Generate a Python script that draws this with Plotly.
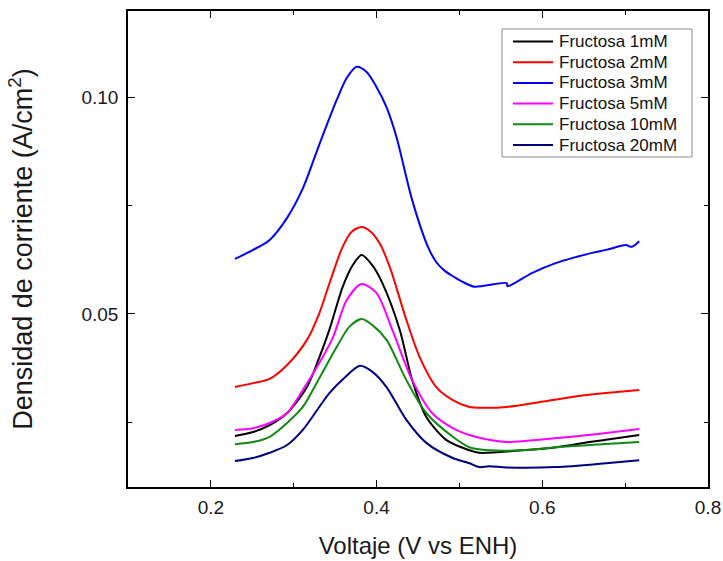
import plotly.graph_objects as go

# Voltammetry curves: current density vs potential for several fructose concentrations
v_1mM = [0.229, 0.251, 0.271, 0.292, 0.316, 0.331, 0.343, 0.359, 0.371, 0.382, 0.395, 0.407, 0.428,
         0.443, 0.460, 0.484, 0.512, 0.524, 0.576, 0.617, 0.657, 0.677, 0.717]
j_1mM = [0.0218, 0.0227, 0.0243, 0.0271, 0.0331, 0.0400, 0.0463, 0.0562, 0.0612, 0.0636, 0.0612, 0.0571, 0.0463,
         0.0347, 0.0262, 0.0209, 0.0185, 0.0179, 0.0185, 0.0192, 0.0204, 0.0209, 0.0220]

v_2mM = [0.229, 0.251, 0.271, 0.292, 0.316, 0.331, 0.343, 0.359, 0.370, 0.382, 0.393, 0.404, 0.416, 0.436,
         0.452, 0.472, 0.492, 0.512, 0.528, 0.557, 0.596, 0.636, 0.677, 0.717]
j_2mM = [0.0331, 0.0340, 0.0350, 0.0382, 0.0440, 0.0502, 0.0570, 0.0655, 0.0690, 0.0701, 0.0690, 0.0662, 0.0608, 0.0486,
         0.0400, 0.0331, 0.0301, 0.0285, 0.0283, 0.0285, 0.0296, 0.0308, 0.0317, 0.0324]

v_3mM = [0.229, 0.251, 0.271, 0.292, 0.311, 0.331, 0.352, 0.364, 0.376, 0.388, 0.400, 0.412,
         0.424, 0.443, 0.462, 0.472, 0.482, 0.494, 0.506, 0.518, 0.557, 0.558, 0.588, 0.617,
         0.636, 0.660, 0.677, 0.701, 0.708, 0.717]
j_3mM = [0.0627, 0.0648, 0.0671, 0.0722, 0.0790, 0.0892, 0.0995, 0.1045, 0.1071, 0.1059, 0.1024, 0.0978,
         0.0909, 0.0763, 0.0655, 0.0620, 0.0600, 0.0585, 0.0572, 0.0563, 0.0571, 0.0564, 0.0595, 0.0618,
         0.0629, 0.0641, 0.0648, 0.0659, 0.0655, 0.0668]

v_5mM = [0.229, 0.251, 0.271, 0.292, 0.311, 0.331, 0.347, 0.364, 0.382, 0.400, 0.419, 0.443,
         0.467, 0.492, 0.512, 0.536, 0.557, 0.617, 0.677, 0.717]
j_5mM = [0.0232, 0.0236, 0.0248, 0.0271, 0.0324, 0.0387, 0.0444, 0.0532, 0.0569, 0.0548, 0.0463, 0.0347,
         0.0271, 0.0236, 0.0220, 0.0209, 0.0204, 0.0213, 0.0225, 0.0234]

v_10mM = [0.229, 0.251, 0.271, 0.292, 0.311, 0.331, 0.352, 0.367, 0.382, 0.395, 0.412, 0.436,
          0.460, 0.492, 0.512, 0.536, 0.576, 0.617, 0.657, 0.717]
j_10mM = [0.0199, 0.0204, 0.0216, 0.0248, 0.0285, 0.0352, 0.0424, 0.0470, 0.0488, 0.0474, 0.0440, 0.0347,
          0.0271, 0.0216, 0.0192, 0.0185, 0.0185, 0.0192, 0.0197, 0.0204]

v_20mM = [0.229, 0.251, 0.271, 0.292, 0.311, 0.343, 0.361, 0.380, 0.395, 0.412, 0.436, 0.460,
          0.492, 0.512, 0.524, 0.536, 0.557, 0.617, 0.677, 0.717]
j_20mM = [0.0160, 0.0167, 0.0179, 0.0197, 0.0232, 0.0317, 0.0352, 0.0380, 0.0366, 0.0331, 0.0255, 0.0202,
          0.0167, 0.0155, 0.0146, 0.0148, 0.0145, 0.0146, 0.0155, 0.0162]

series_names = ["Fructosa 1mM", "Fructosa 2mM", "Fructosa 3mM",
                "Fructosa 5mM", "Fructosa 10mM", "Fructosa 20mM"]
series_x = [v_1mM, v_2mM, v_3mM, v_5mM, v_10mM, v_20mM]
series_y = [j_1mM, j_2mM, j_3mM, j_5mM, j_10mM, j_20mM]
series_colors = ["#000000", "#ff0000", "#0000ff", "#ff00ff", "#118a11", "#00007f"]

x_ticks = [0.2, 0.4, 0.6, 0.8]
y_ticks = [0.05, 0.10]

FONT = "Liberation Sans, Arial, sans-serif"
TEXT_COLOR = "#1a1a1a"

# Figure geometry (pixels)
W, H = 723, 561
M_L, M_R, M_T, M_B = 128, 15, 11, 74
PLOT_W = W - M_L - M_R
PLOT_H = H - M_T - M_B


def px_to_paper(px, py):
    """Convert a pixel position on the page to paper coordinates."""
    return (px - M_L) / PLOT_W, 1 - (py - M_T) / PLOT_H


fig = go.Figure()
for name, xs, ys, col in zip(series_names, series_x, series_y, series_colors):
    fig.add_trace(go.Scatter(
        x=xs, y=ys, name=name, mode="lines",
        line=dict(color=col, width=2, shape="spline", smoothing=0.8),
    ))

# Boxed legend in the upper right corner
LEG_LEFT, LEG_RIGHT, LEG_TOP, LEG_BOTTOM = 502, 692, 29, 157
ROW0, ROW_PITCH = 41.5, 20.7
SAMPLE_X0, SAMPLE_X1, TEXT_X = 513, 553, 557

shapes = []
annotations = []
bx0, by0 = px_to_paper(LEG_LEFT, LEG_BOTTOM)
bx1, by1 = px_to_paper(LEG_RIGHT, LEG_TOP)
shapes.append(dict(type="rect", xref="paper", yref="paper", x0=bx0, y0=by0, x1=bx1, y1=by1,
                   line=dict(color="#8a8a8a", width=1), fillcolor="white", layer="above"))
for i, (name, col) in enumerate(zip(series_names, series_colors)):
    row_y = ROW0 + i * ROW_PITCH
    sx0, sy = px_to_paper(SAMPLE_X0, row_y)
    sx1, _ = px_to_paper(SAMPLE_X1, row_y)
    tx, _ = px_to_paper(TEXT_X, row_y)
    shapes.append(dict(type="line", xref="paper", yref="paper", x0=sx0, y0=sy, x1=sx1, y1=sy,
                       line=dict(color=col, width=2), layer="above"))
    annotations.append(dict(text=name, xref="paper", yref="paper", x=tx, y=sy,
                            xanchor="left", yanchor="middle", showarrow=False,
                            font=dict(family=FONT, size=17, color="#111111")))

axis_common = dict(
    showline=True, linecolor="black", linewidth=1.6, mirror="ticks",
    ticks="inside", ticklen=7, tickwidth=1.4, tickcolor="black",
    showgrid=False, zeroline=False, automargin=False,
    tickfont=dict(family=FONT, size=19, color=TEXT_COLOR),
)

fig.update_xaxes(
    range=[0.1, 0.8], tickvals=x_ticks, ticktext=[f"{t:.1f}" for t in x_ticks],
    ticklabelstandoff=2,
    minor=dict(dtick=0.1, tick0=0.1, ticks="inside", ticklen=4, tickwidth=1.2, tickcolor="black"),
    title=dict(text="Voltaje (V vs ENH)", font=dict(family=FONT, size=24, color=TEXT_COLOR), standoff=21),
    **axis_common,
)
fig.update_yaxes(
    range=[0.01, 0.12], tickvals=y_ticks, ticktext=[f"{t:.2f}" for t in y_ticks],
    ticklabelstandoff=4,
    minor=dict(dtick=0.025, tick0=0.0, ticks="inside", ticklen=4, tickwidth=1.2, tickcolor="black"),
    title=dict(text="Densidad de corriente (A/cm<sup>2</sup>)",
               font=dict(family=FONT, size=27, color=TEXT_COLOR), standoff=41),
    **axis_common,
)

fig.update_layout(
    width=W, height=H,
    margin=dict(l=M_L, r=M_R, t=M_T, b=M_B),
    paper_bgcolor="white", plot_bgcolor="white",
    showlegend=False,
    shapes=shapes,
    annotations=annotations,
)

fig.write_html("out.html")
